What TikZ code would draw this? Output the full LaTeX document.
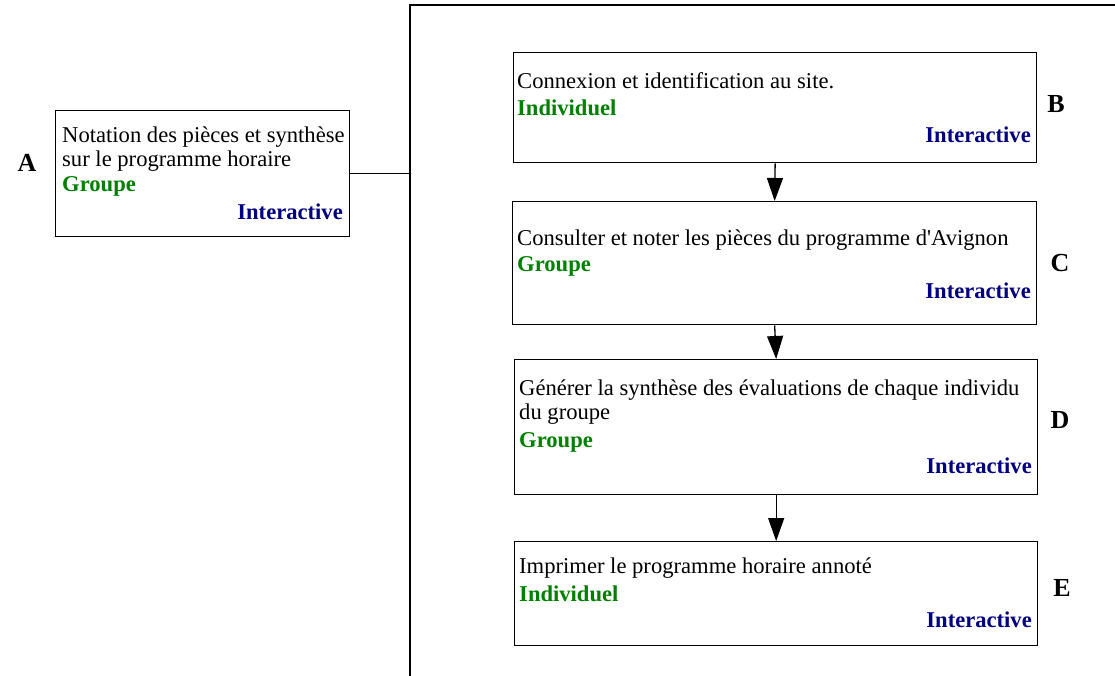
\documentclass[tikz,border=0pt]{standalone}
\usepackage{fontspec}
\setmainfont{Liberation Serif}
\usetikzlibrary{arrows.meta}
\definecolor{grpgreen}{RGB}{0,128,0}
\definecolor{modeblue}{RGB}{0,0,128}
\tikzset{
  stepbox/.style={draw, line width=1.3pt, inner sep=0pt, anchor=north west},
  steptext/.style={anchor=base west, inner sep=0pt, font=\fontsize{22.6}{26}\selectfont},
  kindtext/.style={steptext, text=grpgreen, font=\fontsize{22.6}{26}\selectfont\bfseries},
  modetext/.style={anchor=base east, inner sep=0pt, text=modeblue, font=\fontsize{22.6}{26}\selectfont\bfseries},
  letter/.style={inner sep=0pt, font=\fontsize{26}{30}\selectfont\bfseries},
  flow/.style={line width=1.3pt, -{Triangle[length=23pt, width=16pt]}}
}
\begin{document}
\begin{tikzpicture}[x=1pt, y=-1pt]
    \useasboundingbox (0,0) rectangle (1115,676);
    % outer frame
    \coordinate (frameTop) at (410,5);
    \coordinate (frameBot) at (410,676);
    \coordinate (frameEnd) at (1115,5);
    \draw[line width=1.3pt] (frameBot) -- (frameTop) -- (frameEnd);

    % step A
    \node[stepbox, minimum width=294pt, minimum height=126pt] (boxA) at (55,110) {};
    \node[steptext] (txtA1) at (62,143) {Notation des pièces et synthèse};
    \node[steptext] (txtA2) at (62,167) {sur le programme horaire};
    \node[kindtext] (kindA) at (62,192) {Groupe};
    \node[modetext] (modeA) at (343,220) {Interactive};
    \node[letter] (labA) at (27,163) {A};
    \draw[line width=1.3pt] (boxA.east) -- (boxA.east -| frameTop);

    % step B
    \node[stepbox, minimum width=523pt, minimum height=110pt] (boxB) at (513,52) {};
    \node[steptext] (txtB1) at (517,89) {Connexion et identification au site.};
    \node[kindtext] (kindB) at (517,116) {Individuel};
    \node[modetext] (modeB) at (1031,143) {Interactive};
    \node[letter] (labB) at (1056,104) {B};

    % step C
    \node[stepbox, minimum width=524pt, minimum height=123pt] (boxC) at (512,201) {};
    \node[steptext] (txtC1) at (517,245) {Consulter et noter les pièces du programme d\textquotesingle Avignon};
    \node[kindtext] (kindC) at (517,271) {Groupe};
    \node[modetext] (modeC) at (1031,298) {Interactive};
    \node[letter] (labC) at (1060,263) {C};

    % step D
    \node[stepbox, minimum width=523pt, minimum height=135pt] (boxD) at (514,359) {};
    \node[steptext] (txtD1) at (519,395) {Générer la synthèse des évaluations de chaque individu};
    \node[steptext] (txtD2) at (519,419) {du groupe};
    \node[kindtext] (kindD) at (519,447) {Groupe};
    \node[modetext] (modeD) at (1032,473) {Interactive};
    \node[letter] (labD) at (1060,420) {D};

    % step E
    \node[stepbox, minimum width=523pt, minimum height=104pt] (boxE) at (514,541) {};
    \node[steptext] (txtE1) at (519,573) {Imprimer le programme horaire annoté};
    \node[kindtext] (kindE) at (519,601) {Individuel};
    \node[modetext] (modeE) at (1032,627) {Interactive};
    \node[letter] (labE) at (1062,588) {E};

    % arrows
    \draw[flow] (boxB.south) -- (boxC.north);
    \draw[flow] (boxC.south) -- (boxD.north);
    \draw[flow] (boxD.south) -- (boxE.north);
\end{tikzpicture}
\end{document}
